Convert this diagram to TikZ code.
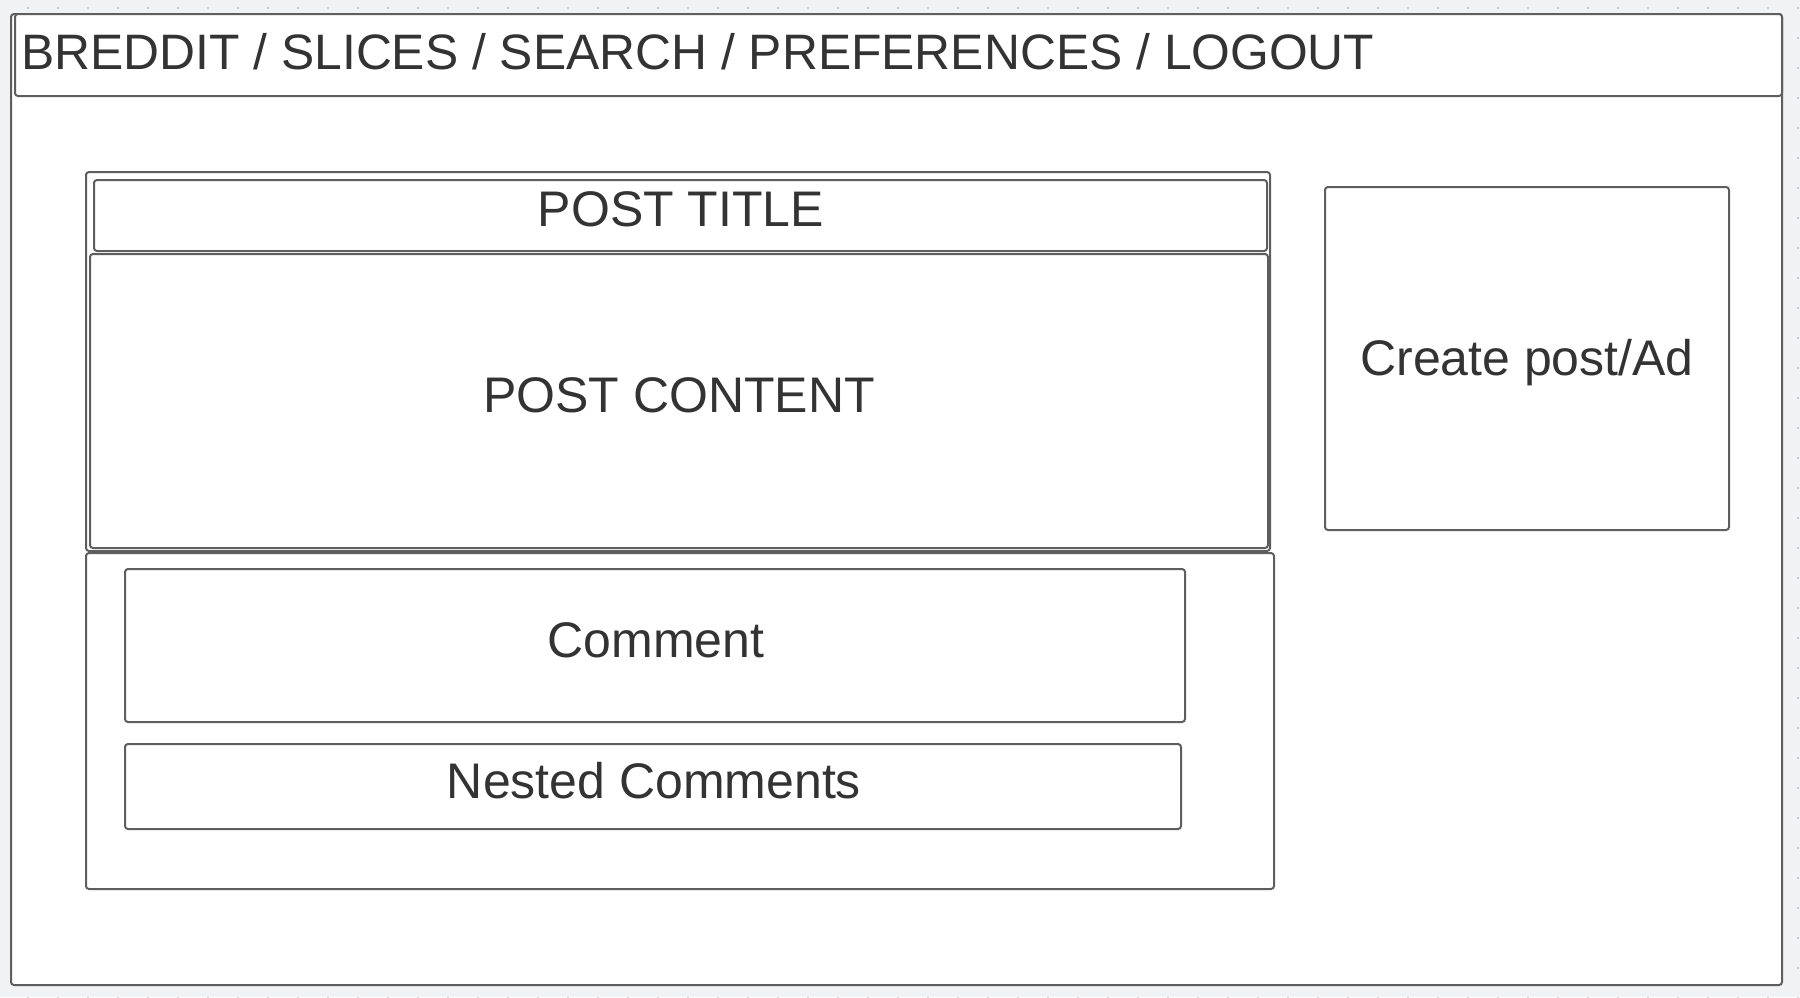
\documentclass[tikz,border=0pt]{standalone}
\usepackage{fontspec}
\setmainfont{Liberation Sans}
\definecolor{bgc}{HTML}{F1F2F4}
\definecolor{linec}{HTML}{5E5E5E}
\definecolor{textc}{HTML}{333333}
\definecolor{dotc}{HTML}{A0A4AA}
\begin{document}
\begin{tikzpicture}[x=1pt,y=-1pt,
  frame/.style={draw=linec,line width=2pt,fill=white,rounded corners=3pt},
  lbl/.style={anchor=base,inner sep=0pt,text=textc,font=\fontsize{50}{58}\selectfont},
  hdr/.style={anchor=base west,inner sep=0pt,text=textc,font=\fontsize{49.8}{60}\selectfont}]
\useasboundingbox (0,0) rectangle (1800,997);
\fill[bgc] (0,0) rectangle (1800,997);
\foreach \i in {0,...,59}{
  \foreach \j in {0,...,33}{
    \fill[dotc] (28+30*\i,8+30*\j) circle (0.9pt);
  }
}
% outer frame
\draw[frame] (11,14) rectangle (1782,985);
% header
\draw[frame] (15,14) rectangle (1782,96);
\node[hdr] (header) at (21,69) {BREDDIT / SLICES / SEARCH / PREFERENCES / LOGOUT};
% post container
\draw[frame] (86,172) rectangle (1270,551);
\draw[frame] (94,180) rectangle (1267,251);
\node[lbl] (title) at (681,226) {POST TITLE};
\draw[frame] (90,254) rectangle (1268,548);
\node[lbl] (content) at (679,412) {POST CONTENT};
% comments container
\draw[frame] (86,553) rectangle (1274,889);
\draw[frame] (125,569) rectangle (1185,722);
\node[lbl] (comment) at (656,657) {Comment};
\draw[frame] (125,744) rectangle (1181,829);
\node[lbl] (nested) at (654,798) {Nested Comments};
% side box
\draw[frame] (1325,187) rectangle (1729,530);
\node[lbl] (create) at (1527,375) {Create post/Ad};
\end{tikzpicture}
\end{document}
